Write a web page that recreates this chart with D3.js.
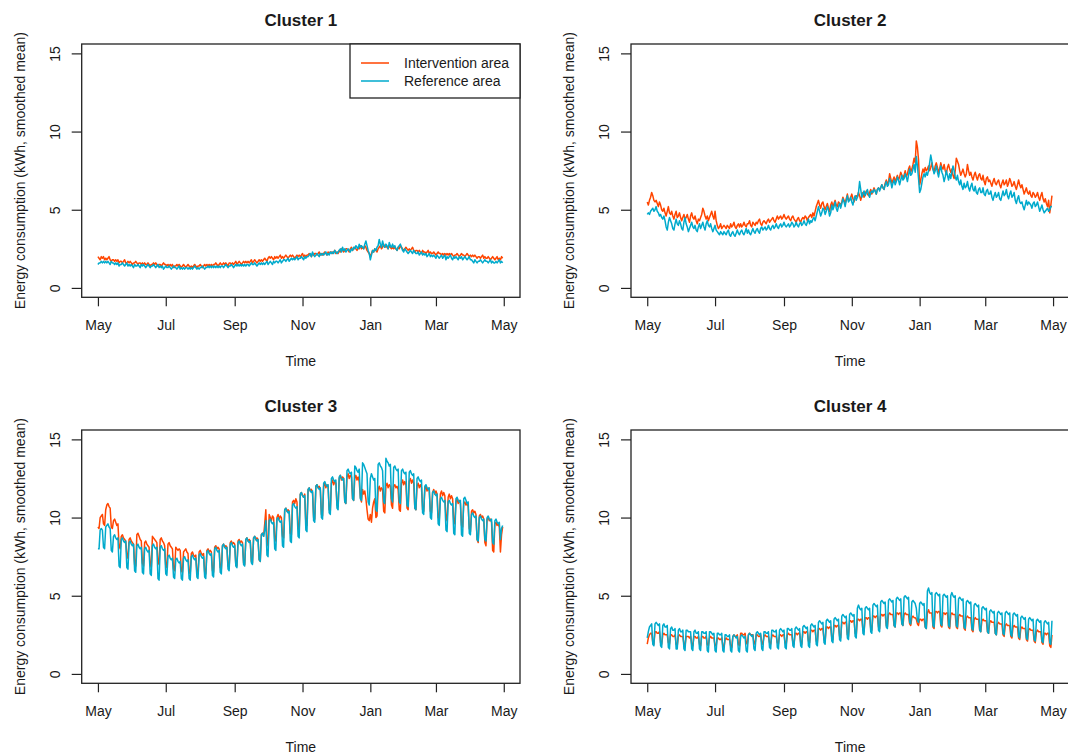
<!DOCTYPE html>
<html>
<meta charset="utf-8">
<style>
  body { margin: 0; background: #fff; }
  text { font-family: "Liberation Sans", Arial, sans-serif; fill: #1a1a1a; }
  .box { fill: none; stroke: #222; stroke-width: 1.3; }
  .series { fill: none; stroke-width: 1.5; stroke-linejoin: round; }
</style>
<body>
<script src="https://d3js.org/d3.v7.min.js"></script>
<script>
// daily smoothed mean consumption (kWh), 1 May 2012 .. 30 Apr 2013
let c1Int = [
2.0,1.9,1.8,2.0,1.9,2.0,1.8, 1.9,1.8,1.9,2.0,1.8,1.7,1.8,
1.8,1.7,1.8,1.7,1.8,1.6,1.7, 1.7,1.6,1.7,1.8,1.6,1.6,1.7,
1.6,1.7,1.6,1.5,1.6,1.6,1.7, 1.6,1.5,1.6,1.6,1.5,1.6,1.5,
1.6,1.5,1.5,1.6,1.5,1.4,1.5, 1.5,1.6,1.5,1.6,1.5,1.4,1.5,
1.5,1.4,1.5,1.6,1.5,1.5,1.4, 1.5,1.4,1.5,1.4,1.5,1.3,1.4,
1.4,1.5,1.4,1.5,1.4,1.3,1.4, 1.5,1.4,1.3,1.4,1.5,1.4,1.3,
1.4,1.3,1.4,1.5,1.4,1.3,1.4, 1.4,1.5,1.4,1.3,1.4,1.5,1.4,
1.5,1.4,1.5,1.4,1.5,1.4,1.5, 1.5,1.6,1.5,1.4,1.5,1.6,1.5,
1.5,1.6,1.5,1.6,1.5,1.4,1.6, 1.6,1.5,1.6,1.5,1.6,1.7,1.5,
1.6,1.7,1.6,1.5,1.6,1.7,1.6, 1.7,1.6,1.7,1.6,1.7,1.8,1.6,
1.7,1.8,1.7,1.6,1.7,1.8,1.7, 1.8,1.7,1.8,1.9,1.8,1.7,1.9,
2.0,1.9,2.0,1.9,1.8,2.0,1.9, 2.0,1.9,2.0,2.1,1.9,2.0,1.9,
2.0,2.1,2.0,1.9,2.0,2.1,2.0, 2.1,2.0,1.9,2.0,2.1,2.0,2.1,
2.0,2.1,2.2,2.0,2.1,2.0,2.1, 2.1,2.2,2.1,2.0,2.2,2.1,2.2,
2.2,2.1,2.2,2.3,2.1,2.2,2.1, 2.2,2.3,2.2,2.1,2.3,2.2,2.3,
2.3,2.2,2.3,2.4,2.2,2.3,2.2, 2.4,2.3,2.5,2.4,2.3,2.4,2.5,
2.5,2.4,2.3,2.5,2.6,2.4,2.5, 2.6,2.5,2.4,2.6,2.5,2.7,2.5,
2.6,2.5,2.7,2.6,2.4,2.3,2.2, 2.0,2.2,2.4,2.3,2.5,2.4,2.3,
2.5,2.6,2.7,2.5,2.6,2.8,2.6, 2.7,2.6,2.5,2.7,2.6,2.5,2.6,
2.5,2.6,2.5,2.4,2.6,2.5,2.7, 2.6,2.5,2.4,2.5,2.6,2.5,2.4,
2.5,2.4,2.5,2.6,2.4,2.3,2.4, 2.4,2.3,2.4,2.3,2.2,2.4,2.3,
2.3,2.2,2.3,2.4,2.2,2.3,2.2, 2.2,2.3,2.2,2.1,2.2,2.3,2.2,
2.2,2.1,2.2,2.1,2.2,2.1,2.2, 2.1,2.2,2.1,2.2,2.1,2.0,2.1,
2.1,2.2,2.1,2.0,2.1,2.2,2.1, 2.1,2.0,2.1,2.2,2.1,2.0,2.1,
2.0,2.1,2.0,2.1,2.0,1.9,2.0, 2.0,1.9,2.0,2.1,1.9,2.0,1.9,
1.9,2.0,1.9,1.8,1.9,2.0,1.9, 1.8,1.9,2.0,1.8,1.9,1.8,2.0,
1.9];

let c1Ref = [
1.5,1.6,1.6,1.7,1.6,1.7,1.6, 1.7,1.6,1.7,1.6,1.5,1.7,1.6,
1.6,1.5,1.6,1.5,1.6,1.4,1.5, 1.5,1.6,1.5,1.4,1.5,1.6,1.4,
1.5,1.4,1.5,1.4,1.3,1.5,1.4, 1.4,1.5,1.4,1.3,1.5,1.4,1.5,
1.4,1.3,1.4,1.5,1.4,1.3,1.4, 1.4,1.5,1.4,1.3,1.4,1.5,1.3,
1.4,1.3,1.4,1.2,1.3,1.4,1.3, 1.3,1.4,1.3,1.2,1.3,1.4,1.3,
1.3,1.2,1.3,1.4,1.2,1.3,1.2, 1.3,1.2,1.3,1.3,1.2,1.3,1.2,
1.3,1.2,1.3,1.4,1.3,1.2,1.3, 1.2,1.3,1.3,1.4,1.3,1.2,1.3,
1.3,1.4,1.3,1.4,1.3,1.4,1.3, 1.4,1.3,1.4,1.3,1.4,1.3,1.4,
1.4,1.3,1.4,1.5,1.4,1.3,1.4, 1.4,1.5,1.4,1.3,1.4,1.5,1.4,
1.5,1.4,1.5,1.4,1.5,1.4,1.5, 1.4,1.5,1.5,1.4,1.5,1.6,1.5,
1.5,1.6,1.5,1.4,1.5,1.6,1.5, 1.6,1.5,1.6,1.5,1.6,1.7,1.5,
1.6,1.7,1.6,1.5,1.7,1.6,1.7, 1.7,1.6,1.7,1.8,1.6,1.7,1.8,
1.8,1.7,1.8,1.9,1.7,1.8,1.9, 1.8,1.9,1.8,1.9,2.0,1.8,1.9,
1.9,2.0,1.9,1.8,2.0,1.9,2.0, 2.0,2.1,2.2,2.0,2.3,2.1,2.0,
2.1,2.2,2.1,2.0,2.2,2.1,2.2, 2.1,2.2,2.3,2.1,2.2,2.1,2.3,
2.2,2.3,2.2,2.4,2.3,2.2,2.3, 2.4,2.5,2.3,2.6,2.4,2.5,2.3,
2.4,2.5,2.4,2.3,2.5,2.4,2.6, 2.5,2.7,2.6,2.5,2.8,2.6,2.7,
2.6,2.5,2.8,3.0,2.7,2.4,2.2, 1.8,2.1,2.4,2.3,2.5,2.4,2.6,
2.7,3.1,2.8,2.6,3.0,2.7,2.6, 2.8,2.7,2.5,2.9,2.7,2.6,2.8,
2.6,2.7,2.5,2.4,2.6,2.7,2.8, 2.6,2.4,2.3,2.5,2.4,2.3,2.2,
2.3,2.4,2.3,2.2,2.4,2.3,2.2, 2.2,2.3,2.1,2.2,2.3,2.1,2.2,
2.1,2.2,2.0,2.1,2.2,2.0,2.1, 2.0,2.1,2.0,1.9,2.1,2.0,1.9,
2.0,2.1,1.9,2.0,2.1,1.8,2.0, 1.9,2.0,2.1,1.9,1.8,2.0,1.9,
2.0,1.9,1.8,2.0,1.9,2.0,1.8, 1.9,2.0,1.9,1.8,1.9,2.0,1.8,
1.8,1.7,1.6,1.8,1.7,1.6,1.7, 1.7,1.8,1.7,1.6,1.7,1.8,1.7,
1.7,1.6,1.7,1.8,1.6,1.7,1.6, 1.6,1.7,1.6,1.7,1.8,1.6,1.7,
1.6];

let c2Int = [
5.5,5.3,5.6,5.8,6.1,5.9,5.6, 5.5,5.6,5.4,5.2,5.5,5.3,5.0,
4.9,5.1,4.8,4.6,4.9,5.2,4.8, 4.7,4.9,4.6,4.4,4.7,4.9,4.5,
4.6,4.8,4.5,4.3,4.5,4.7,4.4, 4.5,4.7,4.4,4.2,4.6,4.8,4.5,
4.4,4.6,4.3,4.1,4.4,4.3,4.5, 4.7,5.1,4.9,4.6,4.4,4.6,4.3,
4.5,4.7,4.9,4.6,4.4,4.9,4.3, 4.0,3.8,3.9,4.1,3.8,3.9,4.0,
3.9,3.8,4.0,3.9,3.8,4.1,3.9, 4.0,4.2,3.9,3.8,4.0,4.1,3.9,
4.1,3.9,4.0,4.2,4.0,3.9,4.1, 4.1,4.3,4.0,3.9,4.2,4.1,4.0,
4.2,4.1,4.3,4.4,4.1,4.0,4.2, 4.3,4.2,4.1,4.3,4.4,4.2,4.3,
4.4,4.5,4.3,4.2,4.4,4.6,4.4, 4.5,4.6,4.4,4.5,4.7,4.5,4.4,
4.5,4.6,4.4,4.3,4.5,4.6,4.4, 4.3,4.2,4.4,4.5,4.3,4.2,4.4,
4.5,4.4,4.6,4.5,4.3,4.5,4.6, 4.7,4.5,4.8,4.6,4.9,5.2,5.4,
5.6,5.3,5.1,5.4,5.5,5.2,5.0, 5.2,5.4,5.1,4.9,5.3,5.5,5.2,
5.4,5.6,5.3,5.2,5.5,5.4,5.3, 5.5,5.8,5.6,5.4,5.7,6.0,5.6,
5.6,5.8,6.0,5.7,5.5,5.8,5.9, 5.8,6.1,5.9,5.6,5.9,6.1,5.8,
6.0,6.2,6.0,5.9,6.1,6.3,6.0, 6.2,6.4,6.2,6.0,6.3,6.4,6.3,
6.4,6.6,6.4,6.3,6.7,6.9,6.6, 6.8,7.3,7.0,6.7,6.9,7.1,6.8,
7.0,7.2,6.9,7.1,7.4,7.2,7.0, 7.2,7.5,7.1,7.3,7.6,7.8,7.4,
7.6,7.9,8.3,8.0,9.4,9.0,8.2, 6.6,6.9,7.3,7.6,7.4,7.7,7.5,
7.6,7.8,7.5,7.7,8.0,7.6,7.4, 7.8,8.0,7.7,7.4,7.6,8.0,7.7,
7.6,7.9,7.5,7.3,7.7,7.9,7.6, 7.4,7.6,7.2,7.0,7.5,8.3,8.1,
7.9,7.5,7.2,7.4,7.6,7.3,7.1, 7.3,7.9,7.5,7.2,7.4,7.1,6.9,
7.2,7.4,7.1,6.9,7.2,7.3,7.0, 6.9,7.2,6.8,6.6,7.0,7.1,6.8,
6.9,6.7,6.5,6.8,7.0,6.7,6.6, 6.8,6.9,6.6,6.4,6.7,6.9,6.6,
6.7,6.9,6.5,6.7,7.0,6.8,6.5, 6.6,6.8,6.5,6.3,6.6,6.9,6.6,
6.4,6.6,6.3,6.0,6.2,6.4,6.1, 6.0,6.2,5.9,5.8,6.1,6.0,5.8,
5.9,6.1,5.8,5.6,5.9,6.1,5.7, 5.5,5.7,5.4,5.2,5.6,4.8,5.3,
5.9];

let c2Ref = [
4.7,4.8,4.7,4.9,5.0,5.1,4.9, 5.0,5.2,4.9,4.8,4.6,4.7,4.5,
4.4,4.6,4.3,3.9,3.7,4.2,4.5, 4.3,4.1,3.8,3.7,4.1,4.4,4.1,
4.0,4.3,4.1,3.8,3.7,4.2,4.5, 4.1,3.9,3.6,3.8,4.0,4.2,3.9,
3.8,4.0,3.7,3.6,3.9,4.1,3.8, 4.0,4.2,3.9,3.7,4.1,4.3,4.0,
3.9,4.1,3.8,3.6,3.8,4.0,3.7, 3.6,3.5,3.4,3.6,3.5,3.4,3.6,
3.5,3.4,3.6,3.7,3.4,3.3,3.5, 3.6,3.4,3.3,3.5,3.7,3.5,3.4,
3.6,3.7,3.5,3.4,3.6,3.8,3.5, 3.7,3.5,3.4,3.6,3.8,3.6,3.5,
3.7,3.8,3.6,3.5,3.8,3.9,3.7, 3.8,3.9,3.7,3.8,4.0,3.8,3.7,
3.9,4.0,3.8,3.9,4.1,3.9,3.8, 4.0,4.1,3.9,4.0,4.2,4.0,3.9,
4.0,4.1,3.9,4.0,4.2,4.1,3.9, 4.0,4.2,4.0,3.9,4.1,4.2,4.0,
4.1,4.3,4.1,4.0,4.2,4.4,4.1, 4.3,4.2,4.4,4.5,4.3,4.6,4.9,
5.2,4.9,4.6,4.8,5.1,5.0,4.7, 4.9,5.2,5.0,4.6,4.8,5.3,5.0,
5.2,5.5,5.1,4.9,5.2,5.4,5.1, 5.4,5.7,5.5,5.2,5.6,5.9,5.5,
5.6,5.8,5.5,5.3,5.7,5.9,5.6, 5.8,6.1,6.8,6.3,5.8,6.0,6.2,
5.9,6.1,6.3,6.0,5.8,6.1,6.2, 6.1,6.3,6.2,6.0,6.3,6.4,6.2,
6.4,6.6,6.4,6.3,6.6,6.8,6.5, 6.6,7.0,6.8,6.4,6.7,6.9,6.6,
6.8,7.1,6.9,6.6,6.9,7.2,6.9, 7.0,7.3,7.1,6.8,7.2,7.6,7.2,
7.3,7.6,7.9,7.4,8.4,7.8,7.0, 6.1,6.3,6.7,7.1,7.3,7.1,7.4,
7.2,7.5,8.0,8.5,8.1,7.6,7.3, 7.5,7.8,7.4,7.1,7.5,7.8,7.4,
7.2,6.8,7.1,7.5,7.2,6.9,7.3, 7.0,7.4,7.8,7.5,7.1,6.9,7.2,
6.8,6.6,6.9,6.5,6.3,6.7,6.4, 6.5,6.8,6.4,6.2,6.5,6.7,6.3,
6.2,6.5,6.1,6.0,6.3,6.4,6.1, 6.1,6.4,6.0,5.9,6.2,6.3,6.0,
6.0,6.2,5.8,5.6,5.9,6.1,5.8, 5.9,6.1,5.7,5.6,5.9,6.2,5.9,
6.0,6.3,5.9,5.7,6.0,6.2,5.8, 5.9,6.1,5.6,5.4,5.7,5.9,5.5,
5.4,5.5,5.2,5.0,5.3,5.6,5.3, 5.5,5.4,5.3,5.1,5.4,5.5,5.2,
5.3,5.5,5.2,4.9,5.1,5.3,5.0, 4.8,4.9,5.0,5.1,4.9,5.0,5.2,
5.2];

let c3Int = [
9.4,9.3,10.0,10.1,10.2,9.6,9.5, 10.5,10.8,10.9,10.7,10.6,9.4,9.3,
9.8,9.9,9.7,9.5,9.6,8.2,8.0, 8.8,8.9,8.7,8.6,8.5,7.6,7.4,
8.6,8.7,8.5,8.4,8.3,7.0,6.9, 8.9,9.0,8.8,8.6,8.5,7.1,6.9,
8.4,8.5,8.3,8.2,8.1,7.0,6.8, 8.8,8.7,8.6,8.5,8.4,7.2,7.0,
8.6,8.7,8.5,8.4,8.2,6.9,6.8, 8.3,8.4,8.2,8.1,8.0,6.7,6.6,
8.1,8.0,7.9,8.0,7.9,6.6,6.5, 7.8,7.9,8.0,7.8,7.7,6.5,6.4,
7.7,7.8,7.6,7.5,7.6,6.5,6.4, 7.8,7.9,7.7,7.6,7.7,6.5,6.4,
7.9,8.0,7.8,7.9,7.8,6.6,6.5, 8.1,8.2,8.0,8.1,8.0,6.8,6.7,
8.2,8.3,8.1,8.2,8.1,6.9,6.8, 8.4,8.5,8.3,8.4,8.3,7.0,6.9,
8.5,8.6,8.4,8.5,8.4,7.1,7.0, 8.6,8.7,8.5,8.6,8.5,7.2,7.1,
8.7,8.8,8.6,8.7,8.6,7.3,7.2, 8.9,9.0,8.8,9.6,10.5,8.4,8.2,
10.2,10.0,9.8,10.1,10.0,8.6,8.5, 10.0,10.2,9.9,10.1,10.0,8.8,8.7,
10.5,10.6,10.4,10.5,10.4,9.0,8.9, 11.0,11.1,10.9,11.2,11.0,9.3,9.2,
11.5,11.6,11.4,11.3,11.5,9.6,9.5, 11.8,11.9,11.7,11.8,11.6,10.0,9.9,
12.0,12.1,11.9,12.0,11.8,10.2,10.1, 12.0,12.2,11.9,12.1,12.0,10.5,10.4,
12.2,12.4,12.1,12.3,12.2,10.8,10.7, 12.5,12.7,12.4,12.6,12.5,11.0,10.9,
12.6,12.8,12.5,12.7,12.6,11.2,11.1, 12.5,12.7,12.4,12.6,12.3,11.3,11.0,
11.8,11.5,11.7,11.2,10.5,9.9,9.8, 10.2,9.7,10.6,11.0,11.2,10.0,10.1,
11.8,12.0,11.7,11.9,11.8,10.4,10.3, 12.0,12.2,11.9,12.1,12.0,10.8,10.6,
12.0,12.1,11.9,12.0,11.8,10.5,10.4, 12.2,12.4,12.1,12.3,12.1,10.6,10.5,
12.3,12.5,12.2,12.4,12.2,10.6,10.5, 12.0,12.2,11.9,12.1,11.9,10.5,10.4,
11.8,12.0,11.7,11.9,11.7,10.4,10.3, 11.6,11.8,11.5,11.7,11.5,10.0,9.9,
11.5,11.7,11.4,11.6,11.4,10.0,9.8, 11.3,11.5,11.2,11.4,11.2,9.8,9.6,
11.0,11.2,10.9,11.1,10.9,9.5,9.4, 10.9,11.0,10.8,10.9,10.7,9.3,9.1,
10.4,10.5,10.3,10.4,10.2,8.6,8.4, 10.1,10.2,10.0,10.1,9.9,8.4,8.2,
9.9,10.0,9.8,9.9,9.7,7.9,7.8, 9.6,9.7,9.5,9.6,9.4,7.8,8.9,
9.4];

let c3Ref = [
8.0,8.0,9.2,9.3,9.2,8.1,8.0, 9.4,9.5,9.6,9.4,9.3,7.9,7.8,
8.8,8.9,8.7,8.6,8.7,6.9,6.8, 8.6,8.7,8.5,8.4,8.5,6.8,6.7,
8.4,8.5,8.3,8.2,8.3,6.6,6.5, 8.2,8.3,8.1,8.0,8.1,6.5,6.4,
8.0,8.1,7.9,7.8,7.9,6.4,6.3, 8.2,8.3,8.1,8.0,8.1,6.1,6.0,
8.1,8.2,8.0,7.9,8.0,6.4,6.3, 7.5,7.6,7.4,7.3,7.4,6.2,6.1,
7.3,7.4,7.2,7.1,7.2,6.1,6.0, 7.4,7.5,7.3,7.2,7.3,6.1,6.0,
7.5,7.6,7.4,7.3,7.4,6.2,6.1, 7.6,7.7,7.5,7.4,7.5,6.2,6.1,
7.8,7.9,7.7,7.6,7.7,6.3,6.2, 8.0,8.1,7.9,7.8,7.9,6.5,6.4,
8.2,8.3,8.1,8.0,8.1,6.7,6.6, 8.3,8.4,8.2,8.1,8.2,6.9,6.8,
8.4,8.5,8.3,8.2,8.3,7.0,6.9, 8.6,8.7,8.5,8.4,8.5,7.1,7.0,
8.7,8.8,8.6,8.5,8.6,7.3,7.2, 8.9,9.0,8.8,9.2,9.8,7.6,7.5,
9.8,9.9,9.7,9.6,9.7,8.0,7.9, 9.9,10.0,9.8,9.7,9.8,8.2,8.1,
10.5,10.6,10.4,10.3,10.4,8.5,8.4, 10.8,10.9,10.7,10.6,10.7,8.8,8.7,
11.5,11.6,11.4,11.3,11.4,9.2,9.1, 11.8,11.9,11.7,11.6,11.7,9.8,9.7,
12.0,12.1,11.9,11.8,11.9,10.0,9.9, 12.2,12.3,12.1,12.0,12.1,10.3,10.2,
12.5,12.6,12.4,12.3,12.4,10.6,10.5, 12.6,12.7,12.5,12.4,12.5,11.0,10.9,
13.0,13.1,12.9,12.8,12.9,11.2,11.1, 13.3,13.2,13.0,12.9,13.1,11.2,11.1,
13.5,13.4,13.2,13.0,12.8,11.0,10.8, 12.5,12.8,12.6,12.4,12.5,10.5,10.4,
13.4,13.5,13.3,13.2,13.0,11.0,10.9, 13.8,13.6,13.5,13.3,13.4,11.2,11.0,
13.2,13.3,13.1,13.0,13.1,11.0,10.9, 13.0,13.1,12.9,12.8,12.9,10.8,10.7,
12.9,13.0,12.8,12.7,12.8,10.6,10.5, 12.5,12.6,12.4,12.3,12.4,10.3,10.2,
12.0,12.1,11.9,11.8,11.9,10.0,9.9, 11.6,11.7,11.5,11.4,11.5,9.6,9.5,
11.2,11.3,11.1,11.0,11.1,9.2,9.1, 11.0,11.1,10.9,10.8,10.9,9.0,8.9,
11.2,11.3,11.1,11.0,11.1,8.9,8.8, 11.2,11.3,11.1,10.9,11.0,9.0,8.9,
10.2,10.3,10.1,10.0,10.1,8.6,8.5, 10.0,10.1,9.9,9.8,9.9,8.6,8.5,
10.0,10.1,9.9,9.8,9.9,8.4,8.3, 9.8,9.9,9.7,9.6,9.7,8.6,9.3,
9.5];

let c4Int = [
1.9,2.3,2.5,2.6,2.6,2.0,1.9, 2.7,2.7,2.6,2.6,2.7,2.0,1.9,
2.5,2.6,2.5,2.5,2.5,2.0,1.9, 2.5,2.5,2.4,2.4,2.5,1.9,1.8,
2.4,2.5,2.4,2.4,2.4,1.9,1.8, 2.4,2.4,2.4,2.3,2.4,1.9,1.8,
2.4,2.4,2.3,2.3,2.4,1.9,1.8, 2.4,2.4,2.3,2.3,2.4,1.9,1.8,
2.3,2.4,2.3,2.3,2.3,1.8,1.8, 2.3,2.3,2.2,2.2,2.3,1.8,1.7,
2.2,2.3,2.2,2.2,2.2,1.8,1.7, 2.4,2.5,2.4,2.4,2.5,1.9,1.8,
2.6,2.6,2.5,2.5,2.6,2.0,1.9, 2.5,2.6,2.5,2.5,2.5,2.0,1.9,
2.5,2.5,2.4,2.4,2.5,2.0,1.9, 2.4,2.5,2.4,2.4,2.4,2.0,1.9,
2.4,2.5,2.4,2.4,2.4,2.0,1.9, 2.5,2.5,2.4,2.5,2.5,2.0,1.9,
2.5,2.6,2.5,2.5,2.5,2.0,1.9, 2.6,2.6,2.5,2.6,2.6,2.0,1.9,
2.7,2.7,2.6,2.7,2.7,2.1,2.0, 2.8,2.8,2.7,2.8,2.8,2.1,2.0,
2.9,2.9,2.8,2.9,2.9,2.2,2.1, 3.0,3.0,2.9,3.0,3.0,2.3,2.2,
3.1,3.1,3.0,3.1,3.1,2.4,2.3, 3.3,3.3,3.2,3.3,3.3,2.5,2.4,
3.4,3.4,3.3,3.4,3.4,2.6,2.5, 3.5,3.5,3.4,3.5,3.5,2.8,2.7,
3.6,3.6,3.5,3.6,3.6,2.9,2.8, 3.7,3.7,3.6,3.7,3.7,3.0,2.9,
3.8,3.8,3.7,3.8,3.8,3.1,3.0, 3.8,3.9,3.8,3.8,3.8,3.1,3.0,
3.9,3.9,3.8,3.9,3.9,3.2,3.1, 3.8,3.9,3.8,3.8,3.8,3.2,3.1,
3.6,3.7,3.6,3.6,3.5,3.2,3.1, 3.5,3.5,3.4,3.5,3.5,3.0,2.9,
3.9,4.1,3.9,3.9,3.9,3.0,2.9, 4.0,4.0,3.9,4.0,4.0,3.1,3.0,
3.9,3.9,3.8,3.9,3.9,3.0,2.9, 3.8,3.9,3.8,3.8,3.8,3.0,2.9,
3.7,3.8,3.7,3.7,3.7,2.9,2.8, 3.6,3.7,3.6,3.6,3.6,2.8,2.7,
3.5,3.6,3.5,3.5,3.5,2.8,2.7, 3.4,3.5,3.4,3.4,3.4,2.7,2.6,
3.3,3.4,3.3,3.3,3.3,2.6,2.5, 3.2,3.3,3.2,3.2,3.2,2.5,2.4,
3.1,3.2,3.1,3.1,3.1,2.4,2.3, 3.0,3.1,3.0,3.0,3.0,2.3,2.2,
2.9,3.0,2.9,2.9,2.9,2.2,2.1, 2.8,2.9,2.8,2.8,2.8,2.1,2.0,
2.7,2.8,2.7,2.7,2.7,2.0,1.9, 2.6,2.6,2.5,2.6,2.6,1.8,1.7,
2.5];

let c4Ref = [
2.3,2.7,3.0,3.1,3.2,1.9,1.8, 3.2,3.3,3.2,3.1,3.2,1.8,1.7,
3.1,3.2,3.0,3.0,3.1,1.7,1.6, 2.9,3.0,2.8,2.8,2.9,1.6,1.6,
2.8,2.9,2.7,2.7,2.8,1.6,1.5, 2.8,2.8,2.7,2.7,2.7,1.6,1.5,
2.7,2.8,2.6,2.6,2.7,1.6,1.5, 2.7,2.7,2.6,2.6,2.7,1.5,1.4,
2.7,2.7,2.6,2.5,2.6,1.5,1.4, 2.6,2.6,2.5,2.5,2.6,1.5,1.4,
2.5,2.5,2.4,2.4,2.5,1.5,1.4, 2.4,2.5,2.4,2.3,2.4,1.5,1.4,
2.4,2.5,2.4,2.3,2.4,1.5,1.4, 2.5,2.6,2.5,2.4,2.5,1.6,1.5,
2.6,2.7,2.6,2.5,2.6,1.6,1.5, 2.7,2.7,2.6,2.6,2.7,1.7,1.6,
2.8,2.8,2.7,2.7,2.8,1.7,1.6, 2.8,2.9,2.8,2.7,2.8,1.7,1.6,
2.9,2.9,2.8,2.8,2.9,1.8,1.7, 2.9,3.0,2.9,2.8,2.9,1.8,1.7,
3.0,3.1,3.0,2.9,3.0,1.8,1.7, 3.1,3.2,3.1,3.0,3.1,1.9,1.8,
3.3,3.4,3.3,3.2,3.3,2.0,1.9, 3.4,3.5,3.4,3.3,3.4,2.1,2.0,
3.5,3.6,3.5,3.4,3.5,2.2,2.1, 3.7,3.8,3.7,3.6,3.7,2.3,2.2,
3.8,3.9,3.8,3.7,3.8,2.4,2.3, 4.2,4.4,4.2,4.1,4.2,2.6,2.5,
4.2,4.3,4.2,4.1,4.2,2.7,2.6, 4.4,4.5,4.4,4.3,4.4,2.8,2.7,
4.6,4.7,4.6,4.5,4.6,3.0,2.9, 4.7,4.8,4.7,4.6,4.7,3.1,3.0,
4.8,4.9,4.8,4.7,4.8,3.2,3.1, 4.9,5.0,4.9,4.8,4.9,3.3,3.2,
4.6,4.7,4.6,4.5,4.2,3.4,3.3, 4.5,4.6,4.5,4.4,4.5,3.0,2.9,
5.3,5.5,5.2,5.1,5.2,3.1,3.0, 5.1,5.2,5.1,5.0,5.1,3.2,3.1,
5.0,5.1,5.0,4.9,5.0,3.1,3.0, 5.0,5.2,5.0,4.9,5.0,3.1,3.0,
4.8,4.9,4.8,4.7,4.8,3.0,2.9, 4.6,4.7,4.6,4.5,4.6,2.9,2.8,
4.4,4.5,4.4,4.3,4.4,2.8,2.7, 4.2,4.3,4.2,4.1,4.2,2.7,2.6,
4.0,4.1,4.0,3.9,4.0,2.6,2.5, 3.9,4.0,3.9,3.8,3.9,2.6,2.5,
3.9,4.0,3.9,3.8,3.9,2.5,2.4, 3.8,3.9,3.8,3.7,3.8,2.4,2.3,
3.6,3.7,3.6,3.5,3.6,2.3,2.2, 3.5,3.6,3.5,3.4,3.5,2.2,2.1,
3.4,3.5,3.4,3.3,3.4,2.1,2.0, 3.3,3.4,3.3,3.2,3.3,2.0,1.9,
3.4];

let titles = ["Cluster 1", "Cluster 2", "Cluster 3", "Cluster 4"];
let intervention = [c1Int, c2Int, c3Int, c4Int];
let reference = [c1Ref, c2Ref, c3Ref, c4Ref];
let yTicks = [0, 5, 10, 15];
let legendLabels = ["Intervention area", "Reference area"];

let colInt = "#ff4500", colRef = "#00aacc";

let width = 1068, height = 755;
let boxW = 438.3, boxH = 253.3;
let lefts = [81.7, 631], tops = [44, 430];
let pad = boxW * 0.04 / 1.08;

let start = new Date(2012, 4, 1), end = new Date(2013, 4, 1);
let days = d3.timeDay.range(start, end);

let svg = d3.select("body").append("svg")
  .attr("width", width)
  .attr("height", height);

svg.append("rect").attr("width", width).attr("height", height).attr("fill", "#fff");

let x = d3.scaleTime().domain([start, end]).range([pad, boxW - pad]);
let y = d3.scaleLinear().domain([-0.6, 15.6]).range([boxH, 0]);

let line = d3.line()
  .x((d, i) => x(days[i]))
  .y(d => y(d));

titles.forEach((title, k) => {
  let g = svg.append("g")
    .attr("transform", `translate(${lefts[k % 2]},${tops[Math.floor(k / 2)]})`);

  // the lines, intervention first so reference sits on top
  g.append("path").attr("class", "series").attr("stroke", colInt).attr("d", line(intervention[k]));
  g.append("path").attr("class", "series").attr("stroke", colRef).attr("d", line(reference[k]));

  g.append("rect").attr("class", "box").attr("width", boxW).attr("height", boxH);

  // x axis
  let xa = g.append("g")
    .attr("transform", `translate(0,${boxH})`)
    .call(d3.axisBottom(x)
      .ticks(d3.timeMonth.every(2))
      .tickFormat(d3.timeFormat("%b"))
      .tickSize(9)
      .tickPadding(14));
  xa.select(".domain").remove();
  xa.selectAll(".tick line").attr("stroke", "#222").attr("stroke-width", 1.2);
  xa.selectAll("text").attr("font-size", 14).attr("font-family", null).attr("fill", "#222");

  // y axis, labels parallel to the axis like R
  let ya = g.append("g")
    .call(d3.axisLeft(y).tickValues(yTicks).tickSize(10));
  ya.select(".domain").remove();
  ya.selectAll(".tick line").attr("stroke", "#222").attr("stroke-width", 1.2);
  ya.selectAll("text")
    .attr("transform", "rotate(-90)")
    .attr("x", 0).attr("y", -22).attr("dy", null)
    .attr("text-anchor", "middle")
    .attr("font-size", 14).attr("font-family", null).attr("fill", "#222");

  g.append("text")
    .attr("x", boxW / 2).attr("y", -18)
    .attr("text-anchor", "middle")
    .attr("font-size", 17).attr("font-weight", "bold")
    .text(title);

  g.append("text")
    .attr("x", boxW / 2).attr("y", boxH + 69)
    .attr("text-anchor", "middle")
    .attr("font-size", 14)
    .text("Time");

  g.append("text")
    .attr("transform", `translate(-57,${boxH / 2}) rotate(-90)`)
    .attr("text-anchor", "middle")
    .attr("font-size", 14)
    .text("Energy consumption (kWh, smoothed mean)");

  if (k === 0) {
    let lg = g.append("g").attr("transform", `translate(${boxW - 170},0)`);
    lg.append("rect").attr("width", 170).attr("height", 54)
      .attr("fill", "#fff").attr("stroke", "#222").attr("stroke-width", 1.3);
    [colInt, colRef].forEach((c, i) => {
      lg.append("line").attr("x1", 11).attr("x2", 39)
        .attr("y1", 19 + i * 18).attr("y2", 19 + i * 18)
        .attr("stroke", c).attr("stroke-width", 1.5);
      lg.append("text").attr("x", 54).attr("y", 24 + i * 18)
        .attr("font-size", 14).text(legendLabels[i]);
    });
  }
});
</script>
</body>
</html>
